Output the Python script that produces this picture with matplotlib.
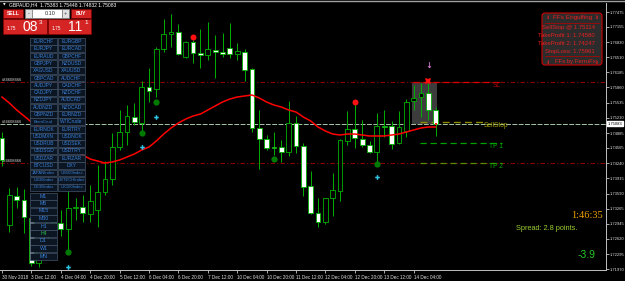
import numpy as np
import matplotlib.pyplot as plt
from matplotlib.patches import Rectangle, FancyBboxPatch

plt.rcParams['font.family'] = ['Liberation Sans Narrow', 'Liberation Sans', 'DejaVu Sans']

# GBPAUD H4, 30 Nov - 14 Dec 2018
opens = [1.74779, 1.72917, 1.73538, 1.73452, 1.73067, 1.72104, 1.72553, 1.72896, 1.72960, 1.72831,
         1.73281, 1.73302, 1.73152, 1.73238, 1.73623, 1.73901, 1.74586, 1.74907, 1.75228, 1.75100,
         1.75870, 1.75827, 1.76683, 1.77004, 1.77047, 1.76512, 1.76833, 1.76598, 1.76555, 1.76662,
         1.76619, 1.76705, 1.76576, 1.76619, 1.76255, 1.74993, 1.74757, 1.74586, 1.74586, 1.74479,
         1.75100, 1.74608, 1.73752, 1.73174, 1.72981, 1.73495, 1.73645, 1.74715, 1.74971, 1.74757,
         1.74629, 1.74479, 1.75036, 1.75036, 1.74672, 1.74929, 1.75571, 1.75656, 1.75742, 1.75383]
highs = [1.74907, 1.73709, 1.73730, 1.73687, 1.73195, 1.72639, 1.73024, 1.73238, 1.73238, 1.73773,
         1.73495, 1.73559, 1.73773, 1.74201, 1.74287, 1.74886, 1.75378, 1.75485, 1.75528, 1.75999,
         1.76277, 1.76726, 1.77325, 1.77432, 1.77218, 1.76855, 1.76876, 1.77111, 1.77261, 1.76983,
         1.77026, 1.77240, 1.76812, 1.76683, 1.76277, 1.75378, 1.74843, 1.74907, 1.74736, 1.75571,
         1.75250, 1.74672, 1.74073, 1.73495, 1.73495, 1.74030, 1.74757, 1.75357, 1.75528, 1.75164,
         1.74715, 1.75314, 1.75378, 1.75143, 1.75357, 1.75613, 1.75913, 1.75956, 1.75956, 1.75448]
lows = [1.74180, 1.72767, 1.73281, 1.72746, 1.72040, 1.72018, 1.72382, 1.72703, 1.72682, 1.72382,
        1.73024, 1.72981, 1.72981, 1.72874, 1.73559, 1.73773, 1.74522, 1.74629, 1.75057, 1.74907,
        1.75549, 1.75656, 1.76619, 1.76726, 1.76555, 1.76491, 1.76384, 1.76277, 1.76448, 1.76063,
        1.76512, 1.76491, 1.76448, 1.75999, 1.74907, 1.74115, 1.74522, 1.74415, 1.74265, 1.74394,
        1.74458, 1.73538, 1.73152, 1.72874, 1.72938, 1.73110, 1.73431, 1.74629, 1.74565, 1.74586,
        1.74458, 1.74222, 1.74800, 1.74543, 1.74650, 1.74800, 1.75378, 1.75228, 1.75164, 1.74832]
closes = [1.74308, 1.73559, 1.73452, 1.73088, 1.72104, 1.72553, 1.72896, 1.72981, 1.72831, 1.73281,
          1.73302, 1.73174, 1.73431, 1.73623, 1.73901, 1.74586, 1.74907, 1.75250, 1.75121, 1.75870,
          1.75785, 1.76683, 1.77004, 1.77047, 1.76576, 1.76833, 1.76598, 1.76555, 1.76683, 1.76619,
          1.76576, 1.76576, 1.76641, 1.76234, 1.74993, 1.74757, 1.74565, 1.74565, 1.74479, 1.75100,
          1.74608, 1.73730, 1.73174, 1.72981, 1.73495, 1.73666, 1.74736, 1.74971, 1.74779, 1.74629,
          1.74479, 1.75036, 1.75014, 1.74650, 1.75014, 1.75549, 1.75635, 1.75742, 1.75383, 1.75083]
ma = [1.75656, 1.75528, 1.75378, 1.75250, 1.75121, 1.75014, 1.74907, 1.74800, 1.74693, 1.74586,
      1.74501, 1.74415, 1.74329, 1.74287, 1.74244, 1.74265, 1.74308, 1.74372, 1.74436, 1.74522,
      1.74586, 1.74715, 1.74864, 1.74993, 1.75100, 1.75185, 1.75250, 1.75292, 1.75378, 1.75464,
      1.75549, 1.75613, 1.75656, 1.75678, 1.75699, 1.75635, 1.75549, 1.75485, 1.75442, 1.75378,
      1.75335, 1.75228, 1.75143, 1.75014, 1.74929, 1.74864, 1.74843, 1.74864, 1.74864, 1.74843,
      1.74822, 1.74822, 1.74822, 1.74843, 1.74864, 1.74907, 1.74950, 1.74993, 1.75014, 1.75014]

green_dot_bars = [9, 19, 21, 37, 51]
green_dot_prices = [1.72339, 1.74886, 1.75549, 1.74329, 1.74222]
red_dot_bars = [26, 48]
red_dot_prices = [1.76940, 1.75549]
cyan_bars = [9, 19, 21, 51]
cyan_prices = [1.72018, 1.74586, 1.75228, 1.73944]

time_labels = ["30 Nov 2018", "3 Dec 12:00", "4 Dec 04:00", "4 Dec 20:00", "5 Dec 12:00",
               "6 Dec 04:00", "6 Dec 20:00", "7 Dec 12:00", "10 Dec 04:00", "10 Dec 20:00",
               "11 Dec 12:00", "12 Dec 04:00", "12 Dec 20:00", "13 Dec 12:00", "14 Dec 04:00"]
price_ticks = [1.77475, 1.77155, 1.76830, 1.76510, 1.76185, 1.75860, 1.75535, 1.75210, 1.74885,
               1.74565, 1.74240, 1.73915, 1.73590, 1.73265, 1.72945, 1.72620, 1.72295, 1.71970]

bid = 1.75083
sell_stop = 1.75114
tp1_line = 1.74665
tp2_line = 1.74244
sl_line = 1.75977

sym_left = ["EURCHF", "EURJPY", "EURAUD", "GBPJPY", "XAGUSD", "GBPCAD", "AUDJPY", "CADJPY",
            "NZDJPY", "AUDNZD", "GBPNZD", "BrentCrud", "EURNOK", "USDMXN", "USDRUB", "USDSGD",
            "USDZAR", "BTCUSD", "JAPANIndex", "US30Index", "DE30Index"]
sym_right = ["EURGBP", "EURCAD", "GBPCHF", "NZDUSD", "XAUUSD", "AUDCHF", "CADCHF", "NZDCHF",
             "AUDCAD", "NZDCAD", "EURNZD", "WTICrude", "EURTRY", "USDNOK", "USDSEK", "USDTRY",
             "EURZAR", "DXY", "US500Index", "USTECHIndex", "UK100Index"]
timeframes = ["M1", "M5", "M15", "M30", "H1", "H4", "D1", "W1", "MN"]

GREEN = '#00b000'

fig = plt.figure(figsize=(6.25, 2.81), dpi=100, facecolor='black')
ax = fig.add_axes([0, 11 / 281, 606 / 625, 267 / 281])
ax.set_facecolor('black')

idx = np.arange(len(opens))
o = np.array(opens)
c = np.array(closes)
bull = c >= o

# engulfing highlight box
ax.add_patch(Rectangle((55.85, bid), 3.4, sl_line - bid, fc='#3c3c3c', ec='none', zorder=1))

# horizontal levels
ax.axhline(sl_line, color='#8b0000', lw=0.8, dashes=(4, 2, 1, 2), zorder=1.2)
ax.axhline(tp2_line, color='#8b0000', lw=0.8, dashes=(4, 2, 1, 2), zorder=1.2)
ax.axhline(bid, color='#a8c8a8', lw=0.7, dashes=(5, 1.5), zorder=1.2)
ax.hlines(sl_line, 55.9, 68, color='#e00000', lw=0.9, linestyles=(0, (5, 3)), zorder=1.3)
ax.hlines(sell_stop, 56.9, 65.4, color='#8c8c00', lw=1.0, linestyles=(0, (5, 3)), zorder=1.3)
ax.hlines(tp1_line, 56.9, 68, color='#00a000', lw=0.9, linestyles=(0, (5, 3)), zorder=1.3)
ax.hlines(tp2_line, 56.9, 68, color='#5a8a00', lw=0.9, linestyles=(0, (5, 3)), zorder=1.3)

ax.text(65.6, sell_stop, 'SellStop', color='#a0a000', fontsize=4.8, va='top', ha='left')
ax.text(66.3, tp1_line, 'TP 1', color='#00b000', fontsize=4.8, va='top', ha='left')
ax.text(66.3, tp2_line, 'TP 2', color='#00b000', fontsize=4.8, va='top', ha='left')
ax.text(66.7, sl_line, 'SL', color='#b00000', fontsize=4.8, va='top', ha='left')

for lvl in [sl_line, bid, tp2_line]:
    ax.text(0.004, lvl, '#34608466', transform=ax.get_yaxis_transform(), color='#dddddd',
            fontsize=3, va='bottom', ha='left')

# candles
ax.vlines(idx, lows, highs, color=GREEN, lw=0.7, zorder=2)
body_lo = np.minimum(o, c)
body_h = np.maximum(np.abs(c - o), 0.00004)
ax.bar(idx, body_h, bottom=body_lo, width=0.64, color=np.where(bull, 'black', 'white'),
       edgecolor=GREEN, linewidth=0.6, zorder=3)

ax.plot(idx, ma, color='#ff0000', lw=1.1, zorder=4)

ax.plot(green_dot_bars, green_dot_prices, 'o', color='#007a00', ms=4.5, mew=0, zorder=5)
ax.plot(red_dot_bars, red_dot_prices, 'o', color='#ff1010', ms=4.3, mew=0, zorder=5)
ax.plot(cyan_bars, cyan_prices, 'P', color='#30c8e8', ms=3.3, mew=0, zorder=5)
ax.plot([58], [1.75999], 'X', color='#ff1010', ms=5, mew=0, zorder=5)
ax.text(58, 1.76320, '\u2193', color='#ff90ff', fontsize=6, ha='center', va='center',
        family='DejaVu Sans', zorder=5)
ax.plot([59], [bid], 's', color='#ff2020', ms=2, mew=0, zorder=5)

ax.set_xlim(-2 / 7.35, 604 / 7.35)
ax.set_ylim(1.71954, 1.77668)

ax.yaxis.tick_right()
ax.set_yticks(price_ticks)
ax.set_yticklabels([f"{v:.5f}" for v in price_ticks])
ax.set_xticks(range(0, 4 * len(time_labels), 4))
ax.set_xticklabels(time_labels, ha='left')
ax.tick_params(axis='y', colors='#c8c8c8', labelcolor='#e0e0e0', labelsize=3.0, length=2,
               width=0.6, pad=0.4)
ax.tick_params(axis='x', colors='#c8c8c8', labelcolor='#e0e0e0', labelsize=3.3, length=2.5,
               width=0.6, pad=0.8)
for s in ['top', 'left']:
    ax.spines[s].set_visible(False)
for s in ['right', 'bottom']:
    ax.spines[s].set_color('#c0c0c0')
    ax.spines[s].set_linewidth(0.7)

ax.text(1.0025, bid, f"{bid:.5f}", transform=ax.get_yaxis_transform(), ha='left', va='center',
        fontsize=3.0, color='black', bbox=dict(fc='white', ec='white', pad=0.3), zorder=6)

# overlay in pixel coordinates for the terminal panels
ov = fig.add_axes([0, 0, 1, 1], zorder=10)
ov.set_xlim(0, 625)
ov.set_ylim(281, 0)
ov.axis('off')
ov.patch.set_alpha(0)


def box(x0, y0, x1, y1, fc, ec, lw=0.5):
    ov.add_patch(Rectangle((x0, y0), x1 - x0, y1 - y0, fc=fc, ec=ec, lw=lw))


ov.plot([0, 625], [0.5, 0.5], color='#a0a0a0', lw=1)
ov.text(3, 5, '\u25BC', color='white', fontsize=2.5, va='center', family='DejaVu Sans')
ov.text(9, 5, 'GBPAUD,H4  1.75383 1.75448 1.74832 1.75083', color='white', fontsize=3.6,
        va='center')

# one-click trading
box(3, 9, 23, 18, '#d32323', '#7a0000')
ov.text(13, 13.5, 'SELL', color='white', fontsize=3.6, ha='center', va='center', weight='bold')
box(25, 9, 32, 18, '#e0e0e0', '#808080')
ov.text(28.5, 13.5, '-', color='#404040', fontsize=4, ha='center', va='center')
box(32, 9, 62, 18, 'white', '#808080')
ov.text(50, 13.5, '0.10', color='#303030', fontsize=4, ha='center', va='center')
box(62, 9, 69, 18, '#e0e0e0', '#808080')
ov.text(65.5, 13.5, '+', color='#404040', fontsize=4, ha='center', va='center')
box(71, 9, 91, 18, '#d32323', '#7a0000')
ov.text(81, 13.5, 'BUY', color='white', fontsize=3.6, ha='center', va='center', weight='bold')

box(3, 19, 47, 34, '#d42424', '#8a0000')
box(48, 19, 91, 34, '#d42424', '#8a0000')
for x0, big, sup in [(3, '08', '3'), (48, '11', '1')]:
    ov.text(x0 + 8, 28, '1.75', color='white', fontsize=3.4, ha='center', va='center')
    ov.text(x0 + 27, 27, big, color='white', fontsize=10, ha='center', va='center')
    ov.text(x0 + 38, 22.5, sup, color='white', fontsize=4.5, ha='center', va='center')

# symbol buttons
for k, (l, r) in enumerate(zip(sym_left, sym_right)):
    yc = 41.5 + 7.3 * k
    for x0, name in [(30, l), (58, r)]:
        box(x0, yc - 3.4, x0 + 27, yc + 3.4, '#0b1622', '#44546a')
        ov.text(x0 + 13.5, yc, name, color='#3a7ed6', fontsize=3.5 if len(name) < 9 else 3.0,
                ha='center', va='center')
for m, tf in enumerate(timeframes):
    yc = 196 + 7.5 * m
    box(30, yc - 3.5, 57, yc + 3.5, '#0b1622', '#44546a')
    ov.text(43.5, yc, tf, color='#30c050' if tf == 'H4' else '#3a7ed6', fontsize=3.8,
            ha='center', va='center')

# signal panel
ov.add_patch(FancyBboxPatch((542, 13), 60, 52, boxstyle='round,pad=0,rounding_size=3',
                            fc='#2c2c2c', ec='#d00000', lw=0.8))
ov.plot([545, 599], [23, 23], color='#c00000', lw=0.5)
ov.plot([545, 599], [56, 56], color='#c00000', lw=0.5)
RED = '#e52020'
ov.text(548, 17.5, '\u0131l', color=RED, fontsize=4.5, ha='center', va='center')
ov.text(573, 17.5, 'FFs Engulfing', color=RED, fontsize=4.6, ha='center', va='center')
ov.text(597, 17.5, 'l\u0131', color=RED, fontsize=4.5, ha='center', va='center')
panel_lines = ['SellStop @ 1.75114', 'TakeProfit 1: 1.74580', 'TakeProfit 2: 1.74247',
               'StopLoss: 1.75961']
for k, t in enumerate(panel_lines):
    ov.text(595, 28 + 7.7 * k, t, color=RED, fontsize=4.3, ha='right', va='center')
ov.text(548, 62, '\u0131l', color=RED, fontsize=4.5, ha='center', va='center')
ov.text(575, 62, 'FFs by FerruFx', color=RED, fontsize=4.3, ha='center', va='center')
ov.text(597, 62, 'l\u0131', color=RED, fontsize=4.5, ha='center', va='center')

ov.text(603, 216, '1:46:35', color='#f0a000', fontsize=7.5, ha='right', va='center',
        family=['Liberation Serif', 'DejaVu Serif'])
ov.text(516, 228, 'Spread: 2.8 points.', color='#9acd32', fontsize=5.3, ha='left', va='center')
ov.text(596, 255, '-3.9', color='#22cc22', fontsize=7.5, ha='right', va='center')

fig.savefig('out.png', dpi=100, facecolor='black')
